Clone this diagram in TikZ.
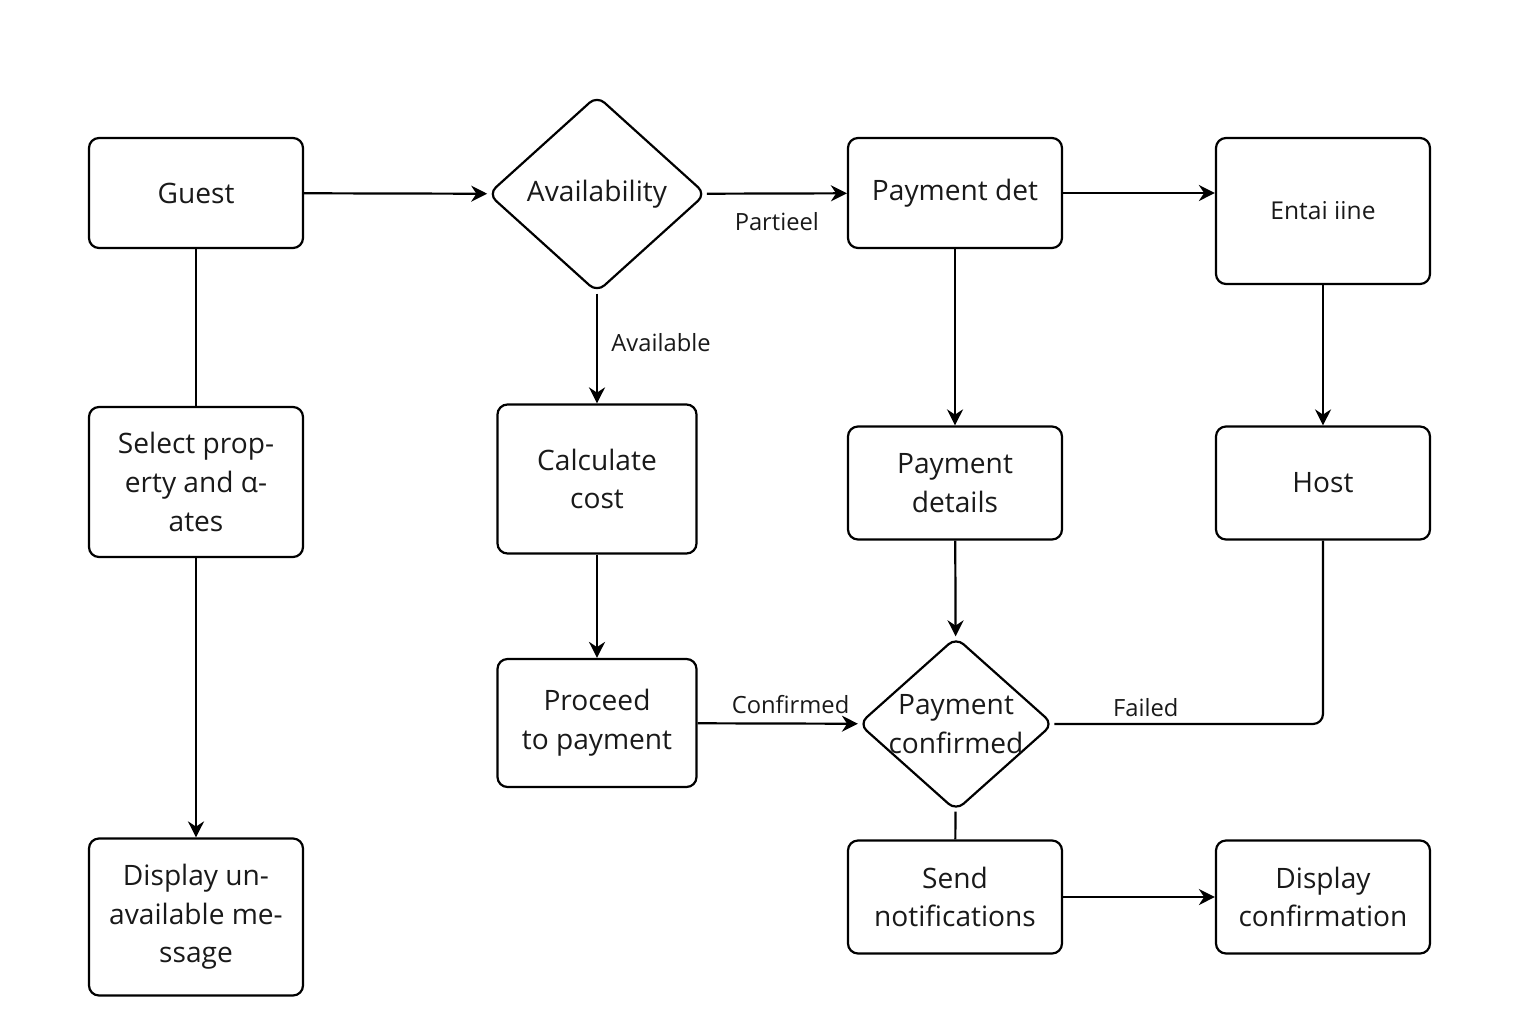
\documentclass[tikz,border=0pt]{standalone}
\usepackage{fontspec}
\setmainfont{Open Sans}
\usetikzlibrary{shapes.geometric, arrows.meta}
\tikzstyle{arrow} = [line width=1.25pt,-{Stealth[length=3.2mm,width=3.2mm]}]
\tikzstyle{plain} = [line width=1.25pt]

\begin{document}
\begin{tikzpicture}[x=0.2mm, y=-0.2mm,
    every node/.style={font=\fontsize{16}{22}\selectfont, text=black!90},
    box/.style={draw, rectangle, rounded corners=2mm, line width=1.25pt, align=center,
      minimum width=42.8mm, minimum height=22.6mm, inner sep=2pt},
    decision/.style={draw, diamond, rounded corners=2mm, line width=1.25pt, align=center, inner sep=0pt},
    lbl/.style={font=\fontsize{13.5}{16}\selectfont}]
        \useasboundingbox (0,0) rectangle (1536,1024);

        % Top row
        \node[box, minimum height=22mm] (guest) at (196,193) {Guest};
        \node[decision, minimum width=43.6mm, minimum height=39.4mm] (avail) at (597,194) {Availability};
        \node[box, minimum height=22mm] (paydet) at (955,193) {Payment det};
        \node[box, minimum height=29.2mm, font=\fontsize{14}{18}\selectfont] (entail) at (1323,211) {Entai iine};

        % Middle row
        \node[box, minimum height=30mm] (select) at (196,482) {Select prop-\\erty and α-\\ates};
        \node[box, minimum width=39.8mm, minimum height=29.8mm] (calc) at (597,479) {Calculate\\cost};
        \node[box] (paydetails) at (955,483) {Payment\\details};
        \node[box] (host) at (1323,483) {Host};

        % Lower rows
        \node[box, minimum width=39.8mm, minimum height=25.6mm] (proceed) at (597,723) {Proceed\\to payment};
        \node[decision, aspect=1.12, inner sep=-0.3mm] (payconf) at (956,724) {Payment\\confirmed};
        \node[box, minimum height=31.4mm] (unavail) at (196,917) {Display un-\\available me-\\ssage};
        \node[box] (send) at (955,897) {Send\\notifications};
        \node[box] (dispconf) at (1323,897) {Display\\confirmation};

        \draw[arrow] (guest) -- (avail);
        \draw[arrow] (avail) -- node[lbl, below=2.4mm] {Partieel} (paydet);
        \draw[arrow] (paydet.east) -- (paydet.east -| entail.west);
        \draw[plain] (guest) -- (select);
        \draw[arrow] (select) -- (unavail);
        \draw[arrow] (avail) -- node[lbl, right=1.5mm, pos=0.45] {Available} (calc);
        \draw[arrow] (calc) -- (proceed);
        \draw[arrow] (paydet) -- (paydetails);
        \draw[arrow] (entail) -- (host);
        \draw[arrow] (paydetails) -- (payconf);
        \draw[arrow] (proceed) -- node[lbl, above=0.6mm, pos=0.58] {Confirmed} (payconf);
        \draw[plain, rounded corners=2mm] (host.south) |- node[lbl, above, pos=0.83] {Failed} (payconf.east);
        \draw[plain] (payconf) -- (send);
        \draw[arrow] (send) -- (dispconf);
      \end{tikzpicture}
\end{document}
